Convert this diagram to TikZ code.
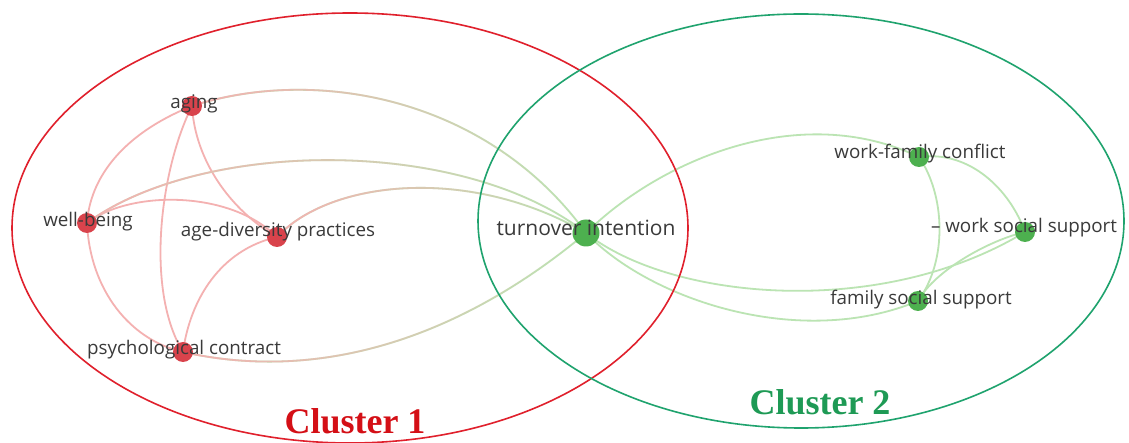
\documentclass[tikz,border=0pt]{standalone}
\usepackage{fontspec}
\setmainfont{Open Sans}
\newfontfamily\clusterfont{Liberation Serif}
\usetikzlibrary{fadings}

\definecolor{redring}{HTML}{E0202C}
\definecolor{greenring}{HTML}{1FA36E}
\definecolor{rednode}{HTML}{D9434C}
\definecolor{greennode}{HTML}{4DB04F}
\definecolor{redlink}{HTML}{F4B1B1}
\definecolor{greenlink}{HTML}{BBE4B3}
\definecolor{labeltext}{HTML}{3A3A3A}
\definecolor{clusterred}{HTML}{D40F16}
\definecolor{clustergreen}{HTML}{1E9A55}

\pgfdeclarelayer{paper}
\pgfdeclarelayer{links}
\pgfsetlayers{paper,links,main}

\tikzset{
  rdot/.style={circle, fill=rednode, minimum size=20pt, inner sep=0pt},
  gdot/.style={circle, fill=greennode, minimum size=20pt, inner sep=0pt},
  hubdot/.style={circle, fill=greennode, minimum size=27pt, inner sep=0pt},
  lbl/.style={text=labeltext, font=\fontsize{18.8}{20}\selectfont, inner sep=0pt},
  hublbl/.style={lbl, font=\fontsize{21}{23}\selectfont},
  rlink/.style={draw=redlink, line width=1.8pt},
  glink/.style={draw=greenlink, line width=1.8pt},
  ring/.style={line width=1.6pt},
  clusterlbl/.style={font=\clusterfont\bfseries\fontsize{36}{38}\selectfont, inner sep=0pt},
}

\begin{document}
\begin{tikzpicture}[x=1pt, y=-1pt]
\useasboundingbox (0,0) rectangle (1129,443);
\begin{pgfonlayer}{paper}
  \fill[white] (0,0) rectangle (1129,443);
\end{pgfonlayer}

% keyword nodes
\node[rdot] (aging) at (192,106) {};
\node[rdot] (wb) at (87,223) {};
\node[rdot] (adp) at (277,237) {};
\node[rdot] (pc) at (183,352) {};
\node[hubdot] (ti) at (586,233) {};
\node[gdot] (wfc) at (919,157) {};
\node[gdot] (wss) at (1025,232) {};
\node[gdot] (fss) at (918,301) {};

% links between keywords
\begin{pgfonlayer}{links}
  % within cluster 1
  \draw[rlink] (aging.center) .. controls (120,135) and (90,180) .. (wb.center);
  \draw[rlink] (aging.center) .. controls (195,160) and (230,210) .. (adp.center);
  \draw[rlink] (aging.center) .. controls (160,170) and (145,290) .. (pc.center);
  \draw[rlink] (wb.center) .. controls (130,190) and (230,190) .. (adp.center);
  \draw[rlink] (wb.center) .. controls (90,290) and (130,340) .. (pc.center);
  \draw[rlink] (adp.center) .. controls (220,250) and (190,300) .. (pc.center);
  % between the clusters: green underneath, red fading out towards the hub
  \draw[glink] (aging.center) .. controls (320,65) and (490,100) .. (ti.center);
  \draw[rlink, path fading=east] (aging.center) .. controls (320,65) and (490,100) .. (ti.center);
  \draw[glink] (wb.center) .. controls (200,140) and (460,135) .. (ti.center);
  \draw[rlink, path fading=east] (wb.center) .. controls (200,140) and (460,135) .. (ti.center);
  \draw[glink] (adp.center) .. controls (330,180) and (470,165) .. (ti.center);
  \draw[rlink, path fading=east] (adp.center) .. controls (330,180) and (470,165) .. (ti.center);
  \draw[glink] (pc.center) .. controls (330,385) and (470,330) .. (ti.center);
  \draw[rlink, path fading=east] (pc.center) .. controls (330,385) and (470,330) .. (ti.center);
  % within cluster 2
  \draw[glink] (ti.center) .. controls (660,160) and (800,100) .. (wfc.center);
  \draw[glink] (ti.center) .. controls (670,300) and (880,320) .. (wss.center);
  \draw[glink] (ti.center) .. controls (650,300) and (800,350) .. (fss.center);
  \draw[glink] (wfc.center) .. controls (970,150) and (1010,190) .. (wss.center);
  \draw[glink] (wfc.center) .. controls (945,195) and (948,260) .. (fss.center);
  \draw[glink] (wss.center) .. controls (990,240) and (935,270) .. (fss.center);
\end{pgfonlayer}

% keyword labels
\node[lbl] (aging-l) at (194,104) {aging};
\node[lbl] (wb-l) at (88,222) {well-being};
\node[lbl] (adp-l) at (278,232) {age-diversity practices};
\node[lbl] (pc-l) at (184,350) {psychological contract};
\node[hublbl] (ti-l) at (586,228) {turnover intention};
\node[lbl] (wfc-l) at (920,154) {work-family conflict};
\node[lbl] (wss-l) at (1024,228) {– work social support};
\node[lbl] (fss-l) at (921,300) {family social support};

% cluster outlines
\draw[ring, redring] (350,228) ellipse [x radius=338, y radius=215];
\draw[ring, greenring] (801,221) ellipse [x radius=323, y radius=207];

% cluster captions
\node[clusterlbl, text=clusterred] (c1) at (355,421) {Cluster 1};
\node[clusterlbl, text=clustergreen] (c2) at (820,402) {Cluster 2};
\end{tikzpicture}
\end{document}
